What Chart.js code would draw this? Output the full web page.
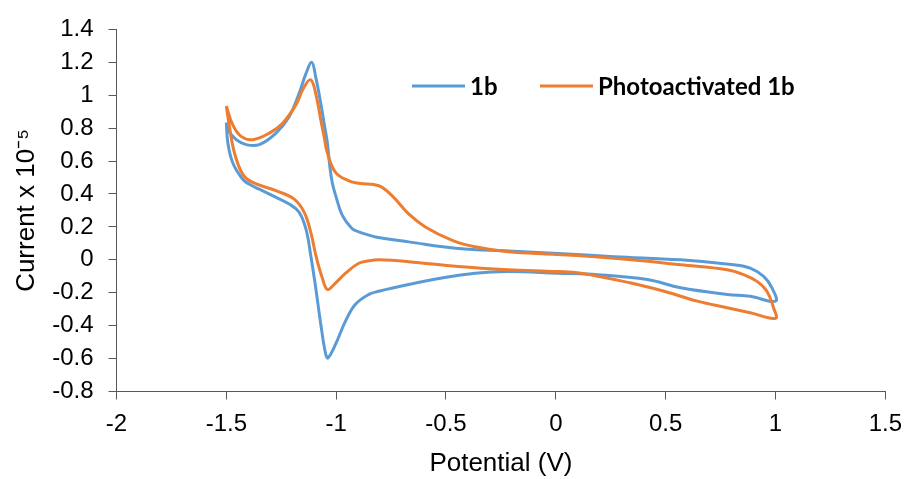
<!DOCTYPE html>
<html>
<head>
<meta charset="utf-8">
<script src="https://cdn.jsdelivr.net/npm/chart.js@4.4.1/dist/chart.umd.min.js"></script>
<style>
  html, body { margin: 0; padding: 0; background: #ffffff; }
  #wrap { width: 912px; height: 479px; }
</style>
</head>
<body>
<div id="wrap"><canvas id="c" width="912" height="479"></canvas></div>
<script>
// ---- data (Potential in V, Current x 10^-5) ----
const seriesNames = ["1b", "Photoactivated 1b"];

const blueX = [-1.50,-1.493,-1.471,-1.425,-1.395,-1.350,-1.304,-1.214,-1.169,-1.138,-1.116,-1.093,-1.070,-1.048,-1.037,-1.002,-0.957,-0.912,-0.851,-0.806,-0.670,-0.519,-0.368,-0.217,0.010,0.191,0.417,0.568,0.780,0.885,1.000,0.984,0.946,0.885,0.810,0.568,0.266,0.010,-0.217,-0.444,-0.670,-0.821,-0.851,-0.897,-0.927,-0.972,-1.002,-1.018,-1.030,-1.040,-1.055,-1.070,-1.093,-1.111,-1.138,-1.169,-1.214,-1.274,-1.350,-1.410,-1.455,-1.493,-1.50];
const blueY = [0.834,0.710,0.590,0.489,0.459,0.429,0.399,0.339,0.290,0.189,0.030,-0.171,-0.391,-0.571,-0.596,-0.511,-0.371,-0.270,-0.210,-0.191,-0.150,-0.111,-0.081,-0.071,-0.081,-0.090,-0.120,-0.170,-0.210,-0.221,-0.251,-0.171,-0.101,-0.051,-0.030,0.000,0.019,0.039,0.054,0.069,0.109,0.139,0.150,0.170,0.189,0.270,0.390,0.470,0.580,0.710,0.830,0.950,1.110,1.200,1.130,1.010,0.870,0.770,0.700,0.700,0.730,0.790,0.834];

const orangeX = [-1.50,-1.486,-1.463,-1.425,-1.380,-1.274,-1.191,-1.146,-1.116,-1.093,-1.063,-1.040,-1.010,-0.957,-0.897,-0.851,-0.806,-0.670,-0.444,-0.217,0.010,0.115,0.342,0.493,0.644,0.780,0.885,1.000,0.991,0.961,0.916,0.855,0.780,0.568,0.342,0.115,-0.013,-0.217,-0.368,-0.474,-0.594,-0.670,-0.746,-0.806,-0.897,-0.942,-1.002,-1.040,-1.055,-1.070,-1.093,-1.116,-1.146,-1.184,-1.244,-1.304,-1.380,-1.433,-1.471,-1.50];
const orangeY = [0.934,0.810,0.650,0.519,0.470,0.420,0.369,0.290,0.170,0.030,-0.111,-0.180,-0.150,-0.081,-0.021,-0.006,0.000,-0.011,-0.041,-0.060,-0.071,-0.081,-0.141,-0.191,-0.251,-0.291,-0.321,-0.355,-0.291,-0.191,-0.131,-0.090,-0.060,-0.030,0.000,0.024,0.034,0.049,0.079,0.120,0.200,0.279,0.390,0.450,0.465,0.480,0.530,0.650,0.750,0.850,1.010,1.094,1.050,0.940,0.830,0.770,0.730,0.750,0.820,0.934];

const xTicks = [-2, -1.5, -1, -0.5, 0, 0.5, 1, 1.5];
const yTicks = [-0.8, -0.6, -0.4, -0.2, 0, 0.2, 0.4, 0.6, 0.8, 1, 1.2, 1.4];
const xTitle = "Potential (V)";
const yTitle = "Current x 10\u207B\u2075";

// ---- build chart ----
const toPts = (xs, ys) => xs.map((x, i) => ({ x: x, y: ys[i] }));
const BLUE = "#5B9BD5", ORANGE = "#ED7D31", AXIS = "#595959", TXT = "#000000";

const legendPlugin = {
  id: "cvLegend",
  afterDraw(chart) {
    const ctx = chart.ctx;
    const ds = chart.data.datasets;
    const items = [
      { i: 0, x0: 412, x1: 465, tx: 470 },
      { i: 1, x0: 540, x1: 593, tx: 598 }
    ];
    const y = 86;
    ctx.save();
    ctx.font = "bold 24px Lato, 'Open Sans', sans-serif";
    ctx.textBaseline = "middle";
    ctx.textAlign = "left";
    items.forEach(it => {
      const d = ds[it.i];
      ctx.strokeStyle = d.borderColor;
      ctx.lineWidth = 3;
      ctx.lineCap = "butt";
      ctx.beginPath();
      ctx.moveTo(it.x0, y);
      ctx.lineTo(it.x1, y);
      ctx.stroke();
      ctx.fillStyle = TXT;
      ctx.fillText(d.label, it.tx, y + 1);
    });
    ctx.restore();
  }
};

new Chart(document.getElementById("c"), {
  type: "scatter",
  data: {
    datasets: [
      { label: seriesNames[0], data: toPts(blueX, blueY), borderColor: BLUE, backgroundColor: BLUE,
        showLine: true, pointRadius: 0, borderWidth: 3, tension: 0.4, fill: false, order: 1 },
      { label: seriesNames[1], data: toPts(orangeX, orangeY), borderColor: ORANGE, backgroundColor: ORANGE,
        showLine: true, pointRadius: 0, borderWidth: 3, tension: 0.4, fill: false, order: 0 }
    ]
  },
  options: {
    responsive: false,
    animation: false,
    devicePixelRatio: 1,
    layout: { padding: { left: 0, right: 23, top: 25, bottom: 0 } },
    plugins: { legend: { display: false }, tooltip: { enabled: false } },
    scales: {
      x: {
        type: "linear",
        min: xTicks[0], max: xTicks[xTicks.length - 1],
        afterBuildTicks: s => { s.ticks = xTicks.map(v => ({ value: v })); },
        afterFit: s => { s.height = 87.5; },
        grid: { display: true, drawOnChartArea: false, drawTicks: true, tickLength: 8, color: AXIS, lineWidth: 1 },
        border: { display: true, color: AXIS, width: 1 },
        ticks: { color: TXT, font: { family: "'Liberation Sans', Arial, sans-serif", size: 24 }, padding: 10,
                 maxRotation: 0, autoSkip: false, callback: v => String(v) },
        title: { display: true, text: xTitle, color: TXT, font: { family: "'Liberation Sans', Arial, sans-serif", size: 26 },
                 padding: { top: 0, bottom: 0 } }
      },
      y: {
        type: "linear",
        min: yTicks[0], max: yTicks[yTicks.length - 1],
        afterBuildTicks: s => { s.ticks = yTicks.map(v => ({ value: v })); },
        afterFit: s => { s.width = 116.5; },
        grid: { display: true, drawOnChartArea: false, drawTicks: true, tickLength: 8, color: AXIS, lineWidth: 1 },
        border: { display: true, color: AXIS, width: 1 },
        ticks: { color: TXT, font: { family: "'Liberation Sans', Arial, sans-serif", size: 24 }, padding: 15,
                 autoSkip: false, callback: v => String(v) },
        title: { display: true, text: yTitle, color: TXT, font: { family: "'Liberation Sans', Arial, sans-serif", size: 26 },
                 padding: { top: 11, bottom: 0 } }
      }
    }
  },
  plugins: [legendPlugin]
});
</script>
</body>
</html>
